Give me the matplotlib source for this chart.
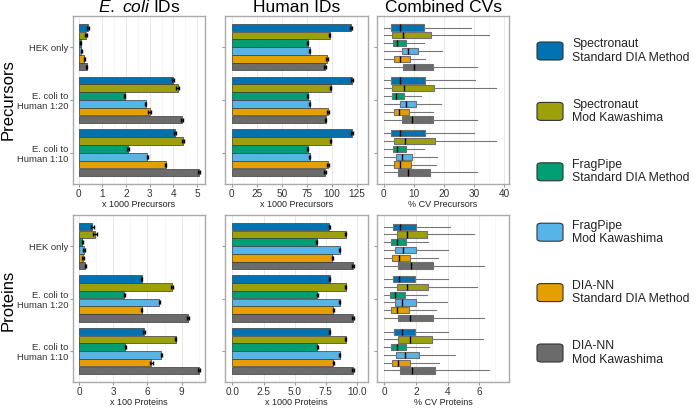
import matplotlib
matplotlib.use("Agg")
import matplotlib.pyplot as plt
from matplotlib.patches import FancyBboxPatch
from matplotlib.ticker import MultipleLocator
import numpy as np

plt.rcParams["font.family"] = ["Liberation Sans", "DejaVu Sans"]
plt.rcParams["mathtext.fontset"] = "custom"
plt.rcParams["mathtext.it"] = "Liberation Sans:italic"
plt.rcParams["mathtext.rm"] = "Liberation Sans"

# categories
groups = ["HEK only", "E. coli to\nHuman 1:20", "E. coli to\nHuman 1:10"]
methods = ["Spectronaut\nStandard DIA Method", "Spectronaut\nMod Kawashima",
           "FragPipe\nStandard DIA Method", "FragPipe\nMod Kawashima",
           "DIA-NN\nStandard DIA Method", "DIA-NN\nMod Kawashima"]
colors = ["#0072B2", "#9CA10B", "#009E73", "#56B4E9", "#E69F00", "#6B6B6B"]

# ID counts, rows = groups, columns = methods
ecoli_prec = [[0.40, 0.30, 0.08, 0.10, 0.23, 0.33],
              [3.98, 4.18, 1.95, 2.83, 3.00, 4.38],
              [4.07, 4.40, 2.08, 2.90, 3.68, 5.10]]
ecoli_prec_err = [[0.04, 0.04, 0.02, 0.02, 0.02, 0.03],
                  [0.04, 0.05, 0.02, 0.03, 0.06, 0.04],
                  [0.03, 0.04, 0.03, 0.03, 0.03, 0.04]]
human_prec = [[118.7, 97.7, 75.7, 77.7, 95.0, 93.0],
              [120.0, 98.7, 75.7, 77.7, 95.7, 93.7],
              [119.7, 98.7, 75.7, 77.7, 95.7, 93.0]]
human_prec_err = [[1.0, 0.8, 0.6, 0.6, 1.0, 0.7],
                  [1.0, 0.8, 0.6, 0.6, 1.0, 0.7],
                  [1.0, 0.8, 0.6, 0.6, 1.0, 0.7]]
ecoli_prot = [[1.17, 1.40, 0.29, 0.44, 0.35, 0.56],
              [5.50, 8.13, 3.95, 7.05, 5.50, 9.56],
              [5.70, 8.48, 4.06, 7.22, 6.34, 10.53]]
ecoli_prot_err = [[0.15, 0.18, 0.05, 0.05, 0.06, 0.06],
                  [0.06, 0.07, 0.05, 0.05, 0.05, 0.07],
                  [0.05, 0.06, 0.05, 0.06, 0.10, 0.06]]
human_prot = [[7.80, 9.11, 6.78, 8.62, 8.02, 9.70],
              [7.83, 9.11, 6.80, 8.62, 8.10, 9.70],
              [7.83, 9.11, 6.80, 8.62, 8.10, 9.70]]
human_prot_err = [[0.04, 0.05, 0.04, 0.03, 0.05, 0.05],
                  [0.04, 0.05, 0.04, 0.03, 0.05, 0.05],
                  [0.04, 0.05, 0.04, 0.03, 0.05, 0.05]]

# CV box stats: (whislo, q1, median, q3, whishi)
cv_prec = [[(0, 2.5, 5.4, 13.3, 29.1), (0, 2.8, 6.2, 15.7, 35.1), (0, 3.0, 4.4, 7.2, 13.4),
            (0, 5.9, 7.9, 11.3, 19.5), (0, 3.4, 5.2, 8.7, 13.8), (0, 6.4, 10.0, 16.4, 31.1)],
           [(0, 2.5, 5.5, 13.8, 30.5), (0, 2.8, 6.8, 16.7, 37.3), (0, 2.8, 4.1, 6.6, 12.5),
            (0, 5.3, 7.2, 10.7, 18.9), (0, 3.3, 4.9, 8.4, 16.4), (0, 6.0, 9.2, 16.2, 31.0)],
           [(0, 2.5, 5.5, 13.6, 30.0), (0, 3.2, 7.0, 16.9, 37.3), (0, 3.0, 4.5, 7.2, 13.2),
            (0, 3.9, 6.1, 9.5, 17.8), (0, 3.4, 5.2, 8.9, 17.5), (0, 4.8, 8.1, 15.4, 31.1)]]
cv_prot = [[(0, 0.59, 1.03, 1.99, 4.13), (0, 0.82, 1.45, 2.73, 5.64), (0, 0.46, 0.80, 1.36, 2.75),
            (0, 0.67, 1.22, 1.99, 4.03), (0, 0.52, 0.92, 1.66, 3.38), (0, 0.90, 1.68, 3.08, 6.29)],
           [(0, 0.59, 0.96, 1.95, 4.03), (0, 0.80, 1.45, 2.79, 5.85), (0, 0.40, 0.71, 1.32, 2.70),
            (0, 0.67, 1.15, 1.99, 3.98), (0, 0.46, 0.80, 1.55, 3.27), (0, 0.90, 1.61, 3.06, 6.29)],
           [(0, 0.63, 1.11, 1.97, 4.05), (0, 0.90, 1.61, 3.04, 6.20), (0, 0.46, 0.84, 1.40, 2.83),
            (0, 0.75, 1.32, 2.22, 4.47), (0, 0.52, 0.90, 1.66, 3.44), (0, 0.99, 1.76, 3.23, 6.60)]]

step = 0.148
offsets = (np.arange(len(methods)) - 2.5) * step
gpos = np.arange(len(groups))


def style_axis(ax, xlim, major, xlabel, show_ylabels):
    ax.set_xlim(*xlim)
    ax.set_ylim(2.59, -0.59)
    ax.xaxis.set_major_locator(MultipleLocator(major))
    ax.xaxis.set_minor_locator(MultipleLocator(major / 2))
    ax.grid(axis="x", which="major", color="#e8e8e8", lw=0.7)
    ax.grid(axis="x", which="minor", color="#f3f3f3", lw=0.5)
    ax.set_axisbelow(True)
    ax.set_yticks(gpos)
    ax.set_yticklabels(groups if show_ylabels else [])
    ax.tick_params(axis="both", which="major", length=2, pad=1.5, color="#999999",
                   labelcolor="#333333")
    ax.tick_params(axis="x", labelsize=7.2)
    ax.tick_params(axis="x", which="minor", length=0)
    ax.tick_params(axis="y", labelsize=6.8)
    for s in ax.spines.values():
        s.set_color("#aaaaaa")
        s.set_linewidth(1.0)
    ax.set_xlabel(xlabel, fontsize=6.5, labelpad=1.0, color="#222222")


def draw_bars(ax, vals, errs):
    vals = np.array(vals)
    errs = np.array(errs)
    for m in range(len(methods)):
        ax.barh(gpos + offsets[m], vals[:, m], height=step * 0.97, color=colors[m],
                edgecolor="#3a3a3a", linewidth=0.5, zorder=2)
        ax.errorbar(vals[:, m], gpos + offsets[m], xerr=errs[:, m], fmt="none",
                    ecolor="black", elinewidth=1.0, capsize=1.6, capthick=1.0, zorder=3)


def draw_boxes(ax, stats):
    for g in range(len(groups)):
        for m in range(len(methods)):
            lo, q1, med, q3, hi = stats[g][m]
            st = [dict(whislo=lo, q1=q1, med=med, q3=q3, whishi=hi, fliers=[])]
            ax.bxp(st, positions=[gpos[g] + offsets[m]], vert=False, widths=step * 0.8,
                   patch_artist=True, showcaps=False, manage_ticks=False,
                   boxprops=dict(facecolor=colors[m], edgecolor="#707070", linewidth=0.8),
                   medianprops=dict(color="black", linewidth=1.0),
                   whiskerprops=dict(color="#777777", linewidth=0.8), zorder=2)


fig = plt.figure(figsize=(6.97, 4.08), dpi=100)
cols_x = [(0.1047, 0.1894), (0.3228, 0.2052), (0.5409, 0.1894)]
rows_y = [(0.549, 0.412), (0.0637, 0.409)]
axes = [[fig.add_axes([cx, ry, cw, rh]) for (cx, cw) in cols_x] for (ry, rh) in rows_y]

draw_bars(axes[0][0], ecoli_prec, ecoli_prec_err)
style_axis(axes[0][0], (-0.25, 5.34), 1, "x 1000 Precursors", True)
draw_bars(axes[0][1], human_prec, human_prec_err)
style_axis(axes[0][1], (-6.7, 136), 25, "x 1000 Precursors", False)
draw_boxes(axes[0][2], cv_prec)
style_axis(axes[0][2], (-2.3, 41.7), 10, "% CV Precursors", False)

draw_bars(axes[1][0], ecoli_prot, ecoli_prot_err)
style_axis(axes[1][0], (-0.53, 11.04), 3, "x 100 Proteins", True)
draw_bars(axes[1][1], human_prot, human_prot_err)
style_axis(axes[1][1], (-0.6, 10.9), 2.5, "x 1000 Proteins", False)
draw_boxes(axes[1][2], cv_prot)
style_axis(axes[1][2], (-0.44, 7.86), 2, "% CV Proteins", False)

axes[0][0].set_title(r"$\it{E.\ coli}$ IDs", fontsize=12.5, pad=3)
axes[0][1].set_title("Human IDs", fontsize=12.5, pad=3)
axes[0][2].set_title("Combined CVs", fontsize=12.5, pad=3)

fig.text(0.0115, 1 - 100 / 408, "Precursors", rotation=90, fontsize=12,
         ha="center", va="center")
fig.text(0.0115, 1 - 300 / 408, "Proteins", rotation=90, fontsize=12,
         ha="center", va="center")

# legend drawn by hand to match the spacing of the original
W, H = 697, 408
for i, (lab, c) in enumerate(zip(methods, colors)):
    yc = 51 + i * 60.4
    box = FancyBboxPatch((537 / W, 1 - (yc + 9) / H), 26 / W, 18 / H,
                         boxstyle="round,pad=0,rounding_size=0.006",
                         transform=fig.transFigure, facecolor=c,
                         edgecolor="#333333", linewidth=0.8)
    fig.patches.append(box)
    fig.text(572 / W, 1 - yc / H, lab, fontsize=8.8, va="center", ha="left",
             linespacing=1.15, color="#222222")

fig.savefig("out.png", dpi=100)
